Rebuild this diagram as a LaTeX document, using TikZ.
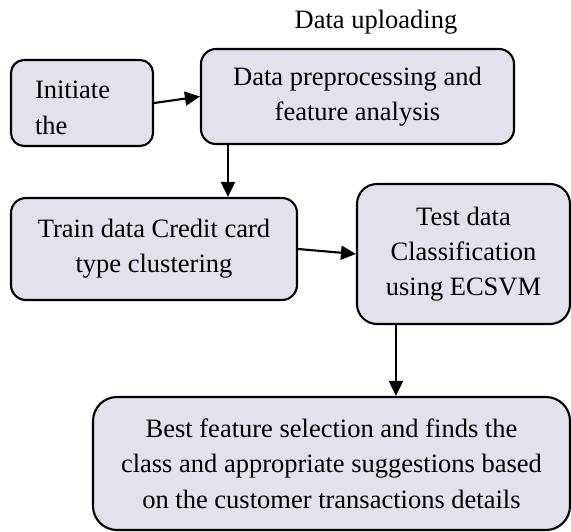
\documentclass[tikz,border=0pt]{standalone}
\usepackage{fontspec}
\setmainfont{Liberation Serif}
\usetikzlibrary{arrows.meta}
\definecolor{boxfill}{RGB}{228,224,236}
\begin{document}
\begin{tikzpicture}[x=1pt,y=-1pt,
  txt/.style={font=\fontsize{26.5}{35.3}\selectfont},
  box/.style={draw=black, line width=2.1pt, fill=boxfill, inner sep=0pt,
    txt, align=center},
  conn/.style={line width=2.1pt, -{Triangle[length=15pt,width=14pt]}}]
\useasboundingbox (0,0) rectangle (571,531);
\node[txt, anchor=base] (upl) at (376,28) {Data uploading};
\node[box, rounded corners=13pt, minimum width=142pt, minimum height=86pt] (init) at (82,103) {};
\node[txt, text width=94pt, align=left, inner sep=0pt] (inittext) at ([yshift=-5pt]init.center) {Initiate\\the};
\node[box, rounded corners=15pt, minimum width=313pt, minimum height=95pt] (prep) at (357.5,96.5)
  {Data preprocessing and\\feature analysis};
\node[box, rounded corners=15pt, minimum width=286pt, minimum height=102pt] (train) at (154,249)
  {Train data Credit card\\type clustering};
\node[box, rounded corners=20pt, minimum width=213pt, minimum height=140pt] (test) at (463.5,254)
  {Test data\\Classification\\using ECSVM};
\node[box, rounded corners=24pt, minimum width=477pt, minimum height=133pt] (best) at (331.5,463.5)
  {Best feature selection and finds the\\class and appropriate suggestions based\\on the customer transactions details};
\draw[conn] (init.east) -- (prep.west);
\draw[conn] ([xshift=28pt]prep.south west) -- ([xshift=28pt]prep.south west |- train.north);
\draw[conn] (train.east) -- (test.west);
\draw[conn] ([xshift=40pt]test.south west) -- ([xshift=40pt]test.south west |- best.north);
\end{tikzpicture}
\end{document}
